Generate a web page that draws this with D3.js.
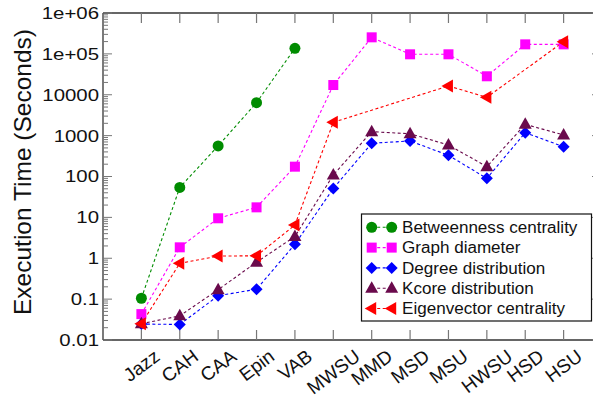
<!DOCTYPE html>
<html>
<head>
<meta charset="utf-8">
<script src="https://cdn.jsdelivr.net/npm/d3@7"></script>
<style>
  html, body { margin: 0; padding: 0; background: #fff; }
  svg { display: block; }
  text { font-family: "Liberation Sans", Arial, Helvetica, sans-serif; fill: #111; }
</style>
</head>
<body>
<svg id="chart" width="593" height="398"></svg>
<script>
const categories = ["Jazz","CAH","CAA","Epin","VAB","MWSU","MMD","MSD","MSU","HWSU","HSD","HSU"];
const betweenness = [0.105, 54, 560, 6400, 137000, null, null, null, null, null, null, null];
const graphDiameter = [0.043, 1.85, 9.5, 17.6, 174, 17300, 254000, 97600, 97600, 28300, 171000, 171000];
const degreeDist = [0.0246, 0.024, 0.121, 0.174, 2.2, 51, 650, 740, 330, 90, 1180, 536];
const kcoreDist = [0.025, 0.039, 0.17, 0.8, 3.4, 109, 1250, 1110, 590, 174, 1890, 1036];
const eigenvector = [0.025, 0.75, 1.13, 1.15, 6.5, 2120, null, null, 16400, 8650, null, 199000];
const yTickValues = [0.01, 0.1, 1, 10, 100, 1000, 10000, 1e5, 1e6];
const yTickLabels = ["0.01","0.1","1","10","100","1000","10000","1e+05","1e+06"];

const series = [
  {name: "Betweenness centrality", values: betweenness, color: "#008c00", symbol: "circle"},
  {name: "Graph diameter", values: graphDiameter, color: "#ff00ff", symbol: "square"},
  {name: "Degree distribution", values: degreeDist, color: "#0000ff", symbol: "diamond"},
  {name: "Kcore distribution", values: kcoreDist, color: "#6a0a4c", symbol: "triangleUp"},
  {name: "Eigenvector centrality", values: eigenvector, color: "#ff0000", symbol: "triangleLeft"}
];

const svg = d3.select("#chart");
const L = 103, R = 602, T = 13, B = 340;

const x = d3.scaleLinear().domain([0, categories.length + 1]).range([L, R]);
const y = d3.scaleLog().domain([0.01, 1e6]).range([B, T]);

function drawSymbol(g, type, cx, cy, color) {
  if (type === "circle") {
    g.append("circle").attr("cx", cx).attr("cy", cy).attr("r", 5.5).attr("fill", color);
  } else if (type === "square") {
    g.append("rect").attr("x", cx - 5).attr("y", cy - 5).attr("width", 10).attr("height", 10).attr("fill", color);
  } else if (type === "diamond") {
    g.append("path").attr("d", `M${cx},${cy-6}L${cx+6},${cy}L${cx},${cy+6}L${cx-6},${cy}Z`).attr("fill", color);
  } else if (type === "triangleUp") {
    g.append("path").attr("d", `M${cx},${cy-7}L${cx+6.5},${cy+4.5}L${cx-6.5},${cy+4.5}Z`).attr("fill", color);
  } else if (type === "triangleLeft") {
    g.append("path").attr("d", `M${cx-7},${cy}L${cx+4.5},${cy-6.5}L${cx+4.5},${cy+6.5}Z`).attr("fill", color);
  }
}

const axisColor = "#333";
const tickColor = "#777";
svg.append("line").attr("x1", L).attr("x2", R).attr("y1", T).attr("y2", T).attr("stroke", axisColor).attr("stroke-width", 1.3);
svg.append("line").attr("x1", L).attr("x2", R).attr("y1", B).attr("y2", B).attr("stroke", axisColor).attr("stroke-width", 1.3);
svg.append("line").attr("x1", L).attr("x2", L).attr("y1", T).attr("y2", B).attr("stroke", axisColor).attr("stroke-width", 1.3);
svg.append("line").attr("x1", R).attr("x2", R).attr("y1", T).attr("y2", B).attr("stroke", axisColor).attr("stroke-width", 1.3);

const minor = [];
for (let e = -2; e < 6; e++) for (let k = 2; k <= 9; k++) minor.push(k * Math.pow(10, e));
minor.forEach(v => {
  svg.append("line").attr("x1", L).attr("x2", L + 5).attr("y1", y(v)).attr("y2", y(v)).attr("stroke", tickColor).attr("stroke-width", 1);
  svg.append("line").attr("x1", R).attr("x2", R - 5).attr("y1", y(v)).attr("y2", y(v)).attr("stroke", tickColor).attr("stroke-width", 1);
});
yTickValues.forEach((v, i) => {
  svg.append("line").attr("x1", L).attr("x2", L + 9).attr("y1", y(v)).attr("y2", y(v)).attr("stroke", tickColor).attr("stroke-width", 1);
  svg.append("line").attr("x1", R).attr("x2", R - 10).attr("y1", y(v)).attr("y2", y(v)).attr("stroke", tickColor).attr("stroke-width", 1);
  svg.append("g").attr("transform", `translate(99,${y(v)})`)
    .append("text").attr("transform", "scale(1.2,1)")
    .attr("text-anchor", "end").attr("dominant-baseline", "central")
    .attr("font-size", 17).text(yTickLabels[i]);
});

categories.forEach((c, i) => {
  const px = x(i + 1);
  svg.append("line").attr("x1", px).attr("x2", px).attr("y1", T).attr("y2", T + 10).attr("stroke", tickColor).attr("stroke-width", 1.2);
  svg.append("line").attr("x1", px).attr("x2", px).attr("y1", B).attr("y2", B - 10).attr("stroke", tickColor).attr("stroke-width", 1.2);
  const t = svg.append("text").attr("font-size", 19).attr("text-anchor", "end").text(c);
  const len = t.node().getComputedTextLength();
  const ex = px + 4 + 0.4 * len, ey = 359;
  t.attr("transform", `translate(${ex},${ey}) rotate(-37)`);
});

svg.append("text")
  .attr("transform", `translate(30.5,172) rotate(-90)`)
  .attr("text-anchor", "middle")
  .attr("font-size", 24.5)
  .text("Execution Time (Seconds)");

series.forEach(s => {
  const pts = s.values.map((v, i) => ({i, v})).filter(d => d.v != null);
  const line = d3.line().x(d => x(d.i + 1)).y(d => y(d.v));
  svg.append("path").attr("d", line(pts)).attr("fill", "none")
    .attr("stroke", s.color).attr("stroke-width", 1.1).attr("stroke-dasharray", "3,2.5");
});
series.forEach(s => {
  const g = svg.append("g");
  s.values.forEach((v, i) => {
    if (v != null) drawSymbol(g, s.symbol, x(i + 1), y(v), s.color);
  });
});

const lg = svg.append("g");
lg.append("rect").attr("x", 361.5).attr("y", 214).attr("width", 230).attr("height", 107)
  .attr("fill", "#fff").attr("stroke", "#111").attr("stroke-width", 1.2);
series.forEach((s, i) => {
  const ry = 227.3 + i * 20.3;
  lg.append("line").attr("x1", 371.7).attr("x2", 391.7).attr("y1", ry).attr("y2", ry)
    .attr("stroke", s.color).attr("stroke-width", 1.1).attr("stroke-dasharray", "3,2.5");
  drawSymbol(lg, s.symbol, 371.7, ry, s.color);
  drawSymbol(lg, s.symbol, 391.7, ry, s.color);
  lg.append("g").attr("transform", `translate(402,${ry})`)
    .append("text").attr("transform", "scale(1.08,1)")
    .attr("dominant-baseline", "central").attr("font-size", 15.8).text(s.name);
});
</script>
</body>
</html>
